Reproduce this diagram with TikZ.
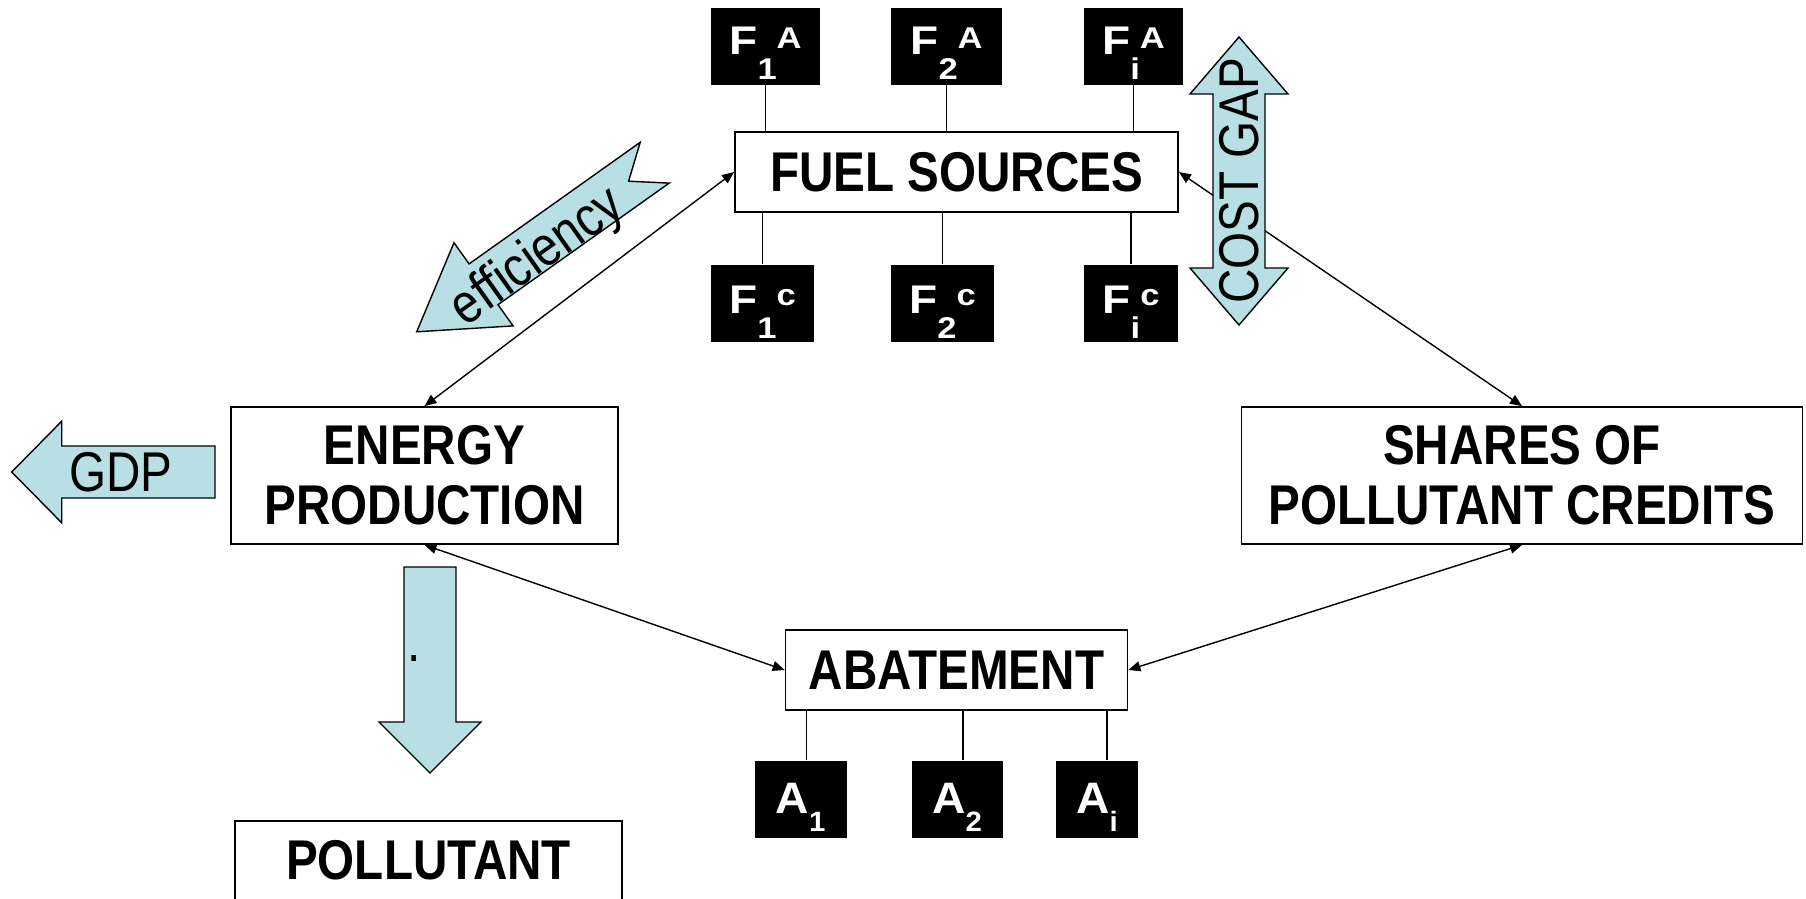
\documentclass[tikz,border=0pt]{standalone}
\usepackage{fontspec}
\setmainfont{Liberation Sans}[FakeStretch=0.85]
\newfontfamily\wide{Liberation Sans}[FakeStretch=1.15]
\newfontfamily\plain{Liberation Sans}[FakeStretch=1.05]
\usetikzlibrary{arrows.meta}
\definecolor{lblue}{RGB}{184,224,228}
% F boxes: letter, subscript, superscript, raise of superscript
\newcommand\FS[4]{#1\raisebox{-12.5pt}{\fontsize{15}{15}\selectfont #2}\raisebox{#4}{\fontsize{15}{15}\selectfont #3}}
\newcommand\AS[2]{#1\raisebox{-8.8pt}{\fontsize{14}{14}\selectfont #2}}
\begin{document}
\begin{tikzpicture}[x=0.5pt,y=-0.5pt,
  box/.style={draw=black,line width=0.9pt,fill=white,font=\fontsize{28}{30}\selectfont\bfseries,align=center,inner sep=0pt},
  fboxa/.style={fill=black,text=white,inner sep=0pt,minimum height=38.5pt,text height=19pt,text depth=10.7pt,font=\wide\fontsize{20}{20}\selectfont\bfseries},
  fboxc/.style={fill=black,text=white,inner sep=0pt,minimum height=38.5pt,text height=19pt,text depth=8.7pt,font=\wide\fontsize{20}{20}\selectfont\bfseries},
  abox/.style={fill=black,text=white,inner sep=0pt,minimum height=38.5pt,text height=20pt,text depth=5.4pt,font=\plain\fontsize{22}{22}\selectfont\bfseries},
  conn/.style={line width=0.7pt,{Triangle[length=6pt,width=5pt]}-{Triangle[length=6pt,width=5pt]}},
  stub/.style={line width=0.7pt},
  barrow/.style={draw=black,line width=0.7pt,fill=lblue,line join=miter},
  atext/.style={font=\fontsize{28}{28}\selectfont}]
\useasboundingbox (0,0) rectangle (1806,899);
\clip (0,0) rectangle (1806,899);

% main boxes
\node[box,minimum width=221.5pt,minimum height=40pt] (fuel) at (956.5,172) {FUEL SOURCES};
\node[box,minimum width=193.5pt,minimum height=68.5pt] (energy) at (424.5,475.5) {ENERGY\\PRODUCTION};
\node[box,minimum width=280.5pt,minimum height=68.5pt] (shares) at (1522,475.5) {SHARES OF\\POLLUTANT CREDITS};
\node[box,minimum width=171pt,minimum height=40pt] (abate) at (956.5,670) {ABATEMENT};
\node[box,minimum width=193.5pt,minimum height=68.5pt] (pollut) at (428.5,889.5) {POLLUTANT\\\phantom{X}};

% fuel boxes
\node[fboxa,minimum width=54.5pt] (f1a) at (765.5,46.5) {\FS{F}{1}{A}{3pt}};
\node[fboxa,minimum width=55.5pt] (f2a) at (946.5,46.5) {\FS{F}{2}{A}{3pt}};
\node[fboxa,minimum width=49.5pt] (fia) at (1133.5,46.5) {\FS{F}{i}{A}{3pt}};
\node[fboxc,minimum width=51.5pt] (f1c) at (762.5,303) {\FS{F}{1}{c}{3.8pt}};
\node[fboxc,minimum width=51.5pt] (f2c) at (942.5,303) {\FS{F}{2}{c}{3.8pt}};
\node[fboxc,minimum width=47pt] (fic) at (1131,303) {\FS{F}{i}{c}{3.8pt}};

% abatement boxes
\node[abox,minimum width=46pt] (a1) at (800.5,799) {\AS{A}{1}};
\node[abox,minimum width=45.5pt] (a2) at (957,799) {\AS{A}{2}};
\node[abox,minimum width=41pt] (ai) at (1097,799) {\AS{A}{i}};

% stubs
\draw[stub] (f1a.south) -- (f1a.south |- fuel.north);
\draw[stub] (f2a.south) -- (f2a.south |- fuel.north);
\draw[stub] (fia.south) -- (fia.south |- fuel.north);
\draw[stub] (f1c.north) -- (f1c.north |- fuel.south);
\draw[stub] (f2c.north) -- (f2c.north |- fuel.south);
\draw[stub] (fic.north) -- (fic.north |- fuel.south);
\draw[stub] ([xshift=3pt]a1.north) -- ([xshift=3pt]a1.north |- abate.south);
\draw[stub] ([xshift=3pt]a2.north) -- ([xshift=3pt]a2.north |- abate.south);
\draw[stub] ([xshift=5pt]ai.north) -- ([xshift=5pt]ai.north |- abate.south);

% connectors
\draw[conn] (fuel.west) -- (energy.north);
\draw[conn] (fuel.east) -- (shares.north);
\draw[conn] (energy.south) -- (abate.west);
\draw[conn] (shares.south) -- (abate.east);

% block arrows
\draw[barrow] (11.7,472) -- (61.7,421.2) -- (61.7,446) -- (215,446) -- (215,498) -- (61.7,498) -- (61.7,522.8) -- cycle;
\node[atext] (gdp) at (121,472) {GDP};

\draw[barrow] (404,567) -- (456,567) -- (456,722) -- (481,722) -- (430,773) -- (379,722) -- (404,722) -- cycle;
\node[atext,anchor=base,inner sep=0pt] (dot) at (414,661) {.};

\draw[barrow] (1239,37) -- (1288,94) -- (1265,94) -- (1265,268) -- (1288,268) -- (1239,325) -- (1190,268) -- (1213,268) -- (1213,94) -- (1190,94) -- cycle;
\node[atext,rotate=90] (cost) at (1239,181) {COST GAP};

\draw[barrow] (640.2,142.3) -- (469.1,263.9) -- (454.0,242.7) -- (416.7,331.8) -- (513.1,325.9) -- (498.0,304.7) -- (669.2,183.1) -- (628.6,181.2) -- cycle;
\node[atext,rotate=35.4] (eff) at (538,258) {efficiency};
\end{tikzpicture}
\end{document}
